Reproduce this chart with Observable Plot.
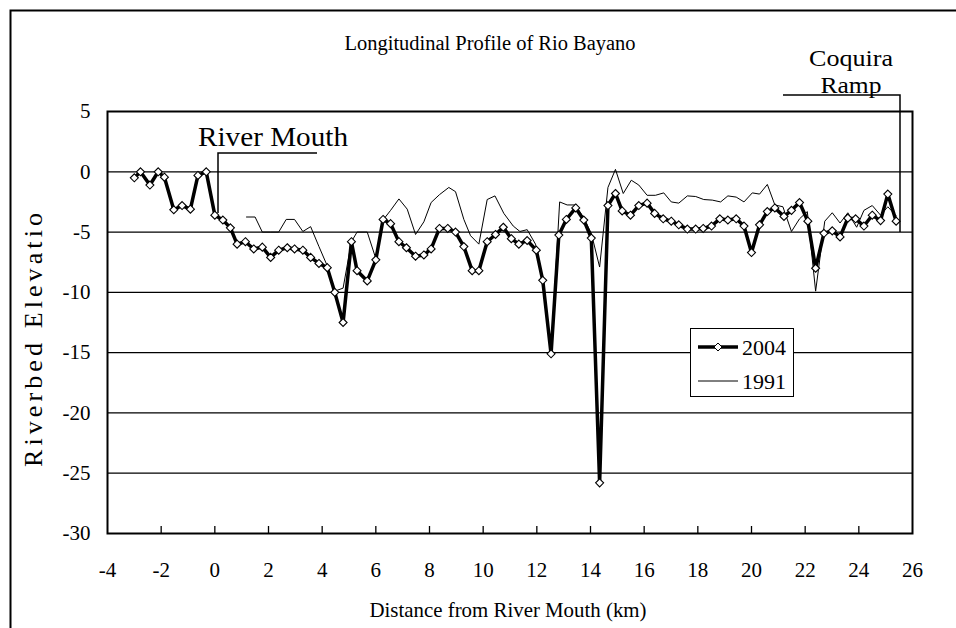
<!DOCTYPE html>
<html><head><meta charset="utf-8">
<script src="https://cdn.jsdelivr.net/npm/d3@7"></script>
<script src="https://cdn.jsdelivr.net/npm/@observablehq/plot@0.6"></script>
<style>body{margin:0;background:#fff;} #chart{position:relative;width:956px;height:628px;}</style>
</head><body><div id="chart"></div>
<script>
// ---- data ----
const km2004 = [-3.0,-2.77,-2.42,-2.11,-1.88,-1.53,-1.22,-0.91,-0.63,-0.32,0.0,0.3,0.58,0.83,1.14,1.45,1.77,2.08,2.38,2.70,2.97,3.28,3.57,3.88,4.19,4.47,4.78,5.09,5.30,5.68,6.0,6.27,6.55,6.86,7.14,7.48,7.79,8.06,8.37,8.68,8.97,9.28,9.59,9.84,10.15,10.46,10.75,11.05,11.33,11.64,11.98,12.22,12.53,12.82,13.1,13.45,13.75,14.03,14.34,14.65,14.93,15.18,15.49,15.8,16.11,16.39,16.71,17.01,17.29,17.61,17.92,18.2,18.51,18.82,19.12,19.43,19.72,20.0,20.3,20.59,20.87,21.21,21.49,21.79,22.1,22.39,22.7,23.01,23.3,23.59,23.88,24.19,24.5,24.81,25.08,25.39];
const elev2004 = [-0.5,0.0,-1.1,0.0,-0.45,-3.15,-2.8,-3.1,-0.3,0.0,-3.6,-4.0,-4.65,-6.0,-5.8,-6.4,-6.25,-7.1,-6.5,-6.3,-6.4,-6.5,-7.1,-7.6,-7.95,-10.0,-12.5,-5.8,-8.2,-9.05,-7.3,-3.95,-4.3,-5.8,-6.3,-7.0,-6.9,-6.4,-4.7,-4.7,-5.0,-6.2,-8.2,-8.2,-5.8,-5.2,-4.6,-5.55,-6.0,-5.7,-6.5,-9.0,-15.1,-5.25,-3.95,-3.0,-4.0,-5.5,-25.8,-2.8,-1.8,-3.25,-3.6,-2.8,-2.6,-3.45,-3.9,-4.1,-4.4,-4.75,-4.75,-4.7,-4.5,-3.9,-4.0,-3.9,-4.5,-6.7,-4.4,-3.3,-3.0,-3.7,-3.2,-2.55,-4.1,-8.0,-5.1,-4.9,-5.4,-3.85,-3.9,-4.5,-3.6,-4.05,-1.85,-4.1];
const km1991 = [1.18,1.50,1.77,2.08,2.38,2.66,2.97,3.28,3.57,3.88,4.19,4.47,4.78,5.09,5.30,5.68,6.0,6.27,6.55,6.86,7.17,7.48,7.79,8.06,8.37,8.72,8.97,9.28,9.53,9.84,10.15,10.44,10.77,11.12,11.37,11.64,11.95,12.22,12.53,12.85,13.13,13.44,13.75,14.03,14.34,14.65,14.93,15.22,15.52,15.8,16.11,16.42,16.73,17.01,17.29,17.61,17.92,18.22,18.54,18.85,19.12,19.43,19.72,20.03,20.3,20.59,20.87,21.17,21.49,21.79,22.08,22.39,22.73,23.01,23.3,23.59,23.92,24.19,24.5,24.81,25.08,25.39];
const elev1991 = [-3.75,-3.75,-5.0,-5.0,-5.0,-3.95,-3.95,-4.95,-4.55,-6.2,-7.8,-9.9,-9.65,-5.8,-5.0,-5.0,-7.2,-4.0,-3.2,-2.25,-3.1,-5.2,-4.15,-2.55,-1.9,-1.3,-1.65,-3.95,-5.3,-6.0,-2.3,-2.0,-3.45,-4.5,-4.95,-4.8,-6.0,-9.0,-15.1,-2.5,-2.75,-2.75,-3.85,-5.1,-7.9,-1.3,0.2,-1.8,-0.7,-1.1,-1.95,-1.95,-1.75,-2.5,-2.6,-2.0,-2.05,-2.3,-2.35,-2.5,-2.0,-2.1,-2.5,-1.75,-1.85,-1.05,-2.75,-2.9,-4.95,-3.9,-3.3,-9.9,-4.1,-3.4,-4.25,-3.4,-4.6,-3.2,-2.8,-3.6,-2.9,-3.65];
const seriesNames = ["2004", "1991"];
const xTicks = [-4,-2,0,2,4,6,8,10,12,14,16,18,20,22,24,26];
const yTicks = [5,0,-5,-10,-15,-20,-25,-30];
const titleText = "Longitudinal Profile of Rio Bayano";
const xLabel = "Distance from River Mouth (km)";
const yLabel = "Riverbed Elevatio";
const notes = ["River Mouth", "Coquira", "Ramp"];

const d2004 = km2004.map((x, i) => ({x, y: elev2004[i]}));
const d1991 = km1991.map((x, i) => ({x, y: elev1991[i]}));

const W = 956, H = 628, mL = 107, mR = 44, mT = 111, mB = 95;
const FONT = "'Liberation Serif','Times New Roman',serif";

const plot = Plot.plot({
  width: W, height: H,
  marginLeft: mL, marginRight: mR, marginTop: mT, marginBottom: mB,
  style: {fontFamily: FONT, fontSize: "21px", color: "#000", background: "transparent", overflow: "visible"},
  x: {domain: [-4, 26], ticks: xTicks, tickSize: 0, tickPadding: 29, label: null, tickFormat: d => String(d)},
  y: {domain: [-30, 5], ticks: yTicks, tickSize: 0, tickPadding: 17, label: null, tickFormat: d => String(d)},
  marks: [
    Plot.ruleY(yTicks.slice(1, -1), {stroke: "#000", strokeWidth: 1.3}),
    Plot.ruleX(xTicks.slice(1, -1), {stroke: "#000", strokeWidth: 1.3, insetTop: (H - mT - mB) - 7}),
    Plot.line(d1991, {x: "x", y: "y", stroke: "#000", strokeWidth: 1}),
    Plot.line(d2004, {x: "x", y: "y", stroke: "#000", strokeWidth: 3.5}),
    Plot.dot(d2004, {x: "x", y: "y", symbol: "diamond2", r: 3.6, fill: "#fff", stroke: "#000", strokeWidth: 1.1}),
    Plot.frame({stroke: "#000", strokeWidth: 2})
  ]
});
document.getElementById("chart").appendChild(plot);

const svg = d3.select(plot);
const g = svg.append("g").attr("font-family", FONT).attr("fill", "#000").attr("text-anchor", "start");

// outer border
g.append("path").attr("d", "M10.5,628V10.5H956").attr("fill", "none").attr("stroke", "#000").attr("stroke-width", 2);

// title
g.append("text").attr("x", 490).attr("y", 50).attr("text-anchor", "middle")
  .attr("font-size", 20).attr("textLength", 291).attr("lengthAdjust", "spacingAndGlyphs").text(titleText);

// axis titles
g.append("text").attr("x", 508).attr("y", 617).attr("text-anchor", "middle")
  .attr("font-size", 21).attr("textLength", 277).attr("lengthAdjust", "spacingAndGlyphs").text(xLabel);
g.append("text").attr("transform", "translate(42,340) rotate(-90)").attr("text-anchor", "middle")
  .attr("font-size", 26).attr("textLength", 254).attr("lengthAdjust", "spacing").text(yLabel);

// River Mouth annotation
g.append("text").attr("x", 273).attr("y", 146).attr("text-anchor", "middle")
  .attr("font-size", 28).attr("textLength", 150).attr("lengthAdjust", "spacingAndGlyphs").text(notes[0]);
g.append("path").attr("d", "M218,213V153H317").attr("fill", "none").attr("stroke", "#000").attr("stroke-width", 1.5);

// Coquira Ramp annotation
g.append("text").attr("x", 851).attr("y", 66).attr("text-anchor", "middle").attr("font-size", 24)
  .attr("textLength", 84).attr("lengthAdjust", "spacingAndGlyphs").text(notes[1]);
g.append("text").attr("x", 851).attr("y", 93).attr("text-anchor", "middle").attr("font-size", 24)
  .attr("textLength", 61).attr("lengthAdjust", "spacingAndGlyphs").text(notes[2]);
g.append("path").attr("d", "M783,95H900V232").attr("fill", "none").attr("stroke", "#000").attr("stroke-width", 1.5);

// legend
const lg = g.append("g");
lg.append("rect").attr("x", 690.5).attr("y", 328.5).attr("width", 103).attr("height", 68)
  .attr("fill", "#fff").attr("stroke", "#000").attr("stroke-width", 1);
lg.append("line").attr("x1", 698).attr("x2", 738).attr("y1", 347).attr("y2", 347).attr("stroke", "#000").attr("stroke-width", 3.5);
lg.append("path").attr("d", "M718,343L722,347L718,351L714,347Z").attr("fill", "#fff").attr("stroke", "#000").attr("stroke-width", 1);
lg.append("text").attr("x", 742).attr("y", 347).attr("dy", "0.35em").attr("text-anchor", "start").attr("font-size", 22).text(seriesNames[0]);
lg.append("line").attr("x1", 698).attr("x2", 738).attr("y1", 381).attr("y2", 381).attr("stroke", "#000").attr("stroke-width", 1);
lg.append("text").attr("x", 742).attr("y", 381).attr("dy", "0.35em").attr("text-anchor", "start").attr("font-size", 22).text(seriesNames[1]);
</script>
</body></html>
